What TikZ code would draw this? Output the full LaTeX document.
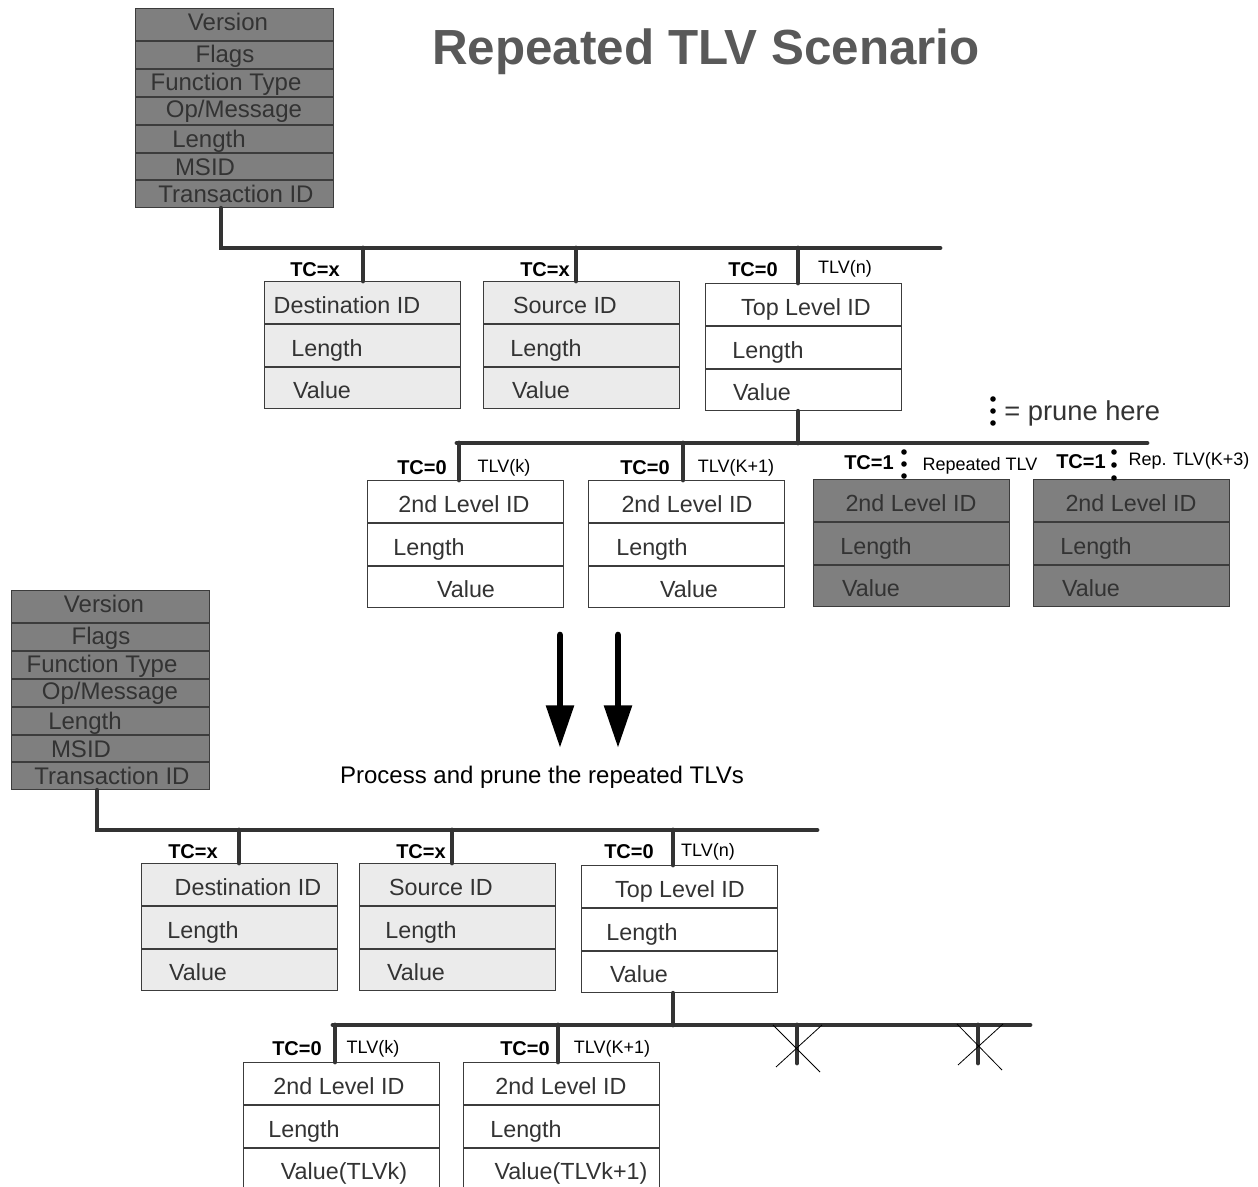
\documentclass[tikz,border=0pt]{standalone}
\usepackage{fontspec}
\setmainfont{Liberation Sans}
\usetikzlibrary{arrows.meta,calc}
\definecolor{ln}{HTML}{333333}
\definecolor{bx}{HTML}{3C3C3C}
\definecolor{dk}{HTML}{7F7F7F}
\definecolor{lt}{HTML}{EBEBEB}
\definecolor{tx}{HTML}{333333}
\definecolor{ttl}{HTML}{595959}
\tikzset{
  bus/.style={draw=ln, line width=3.6pt, line cap=round},
  boxline/.style={draw=bx, line width=0.9pt},
  tlvb/.style={draw=bx, line width=0.9pt, rectangle, inner sep=0pt, anchor=north west, minimum width=147pt, minimum height=95.25pt},
  hdrb/.style={draw=bx, fill=dk, line width=0.9pt, rectangle, inner sep=0pt, anchor=north west, minimum width=148.5pt, minimum height=149.25pt},
  big/.style={font=\fontsize{17.5}{21}\selectfont, text=tx, inner sep=0pt, anchor=mid},
  hdrt/.style={font=\fontsize{18}{21}\selectfont, text=tx, inner sep=0pt, anchor=mid},
  tc/.style={font=\bfseries\fontsize{15}{18}\selectfont, inner sep=0pt, anchor=mid},
  tlvl/.style={font=\fontsize{13.5}{16}\selectfont, inner sep=0pt, anchor=mid},
  pdot/.style={circle, fill=black, inner sep=0pt, minimum size=4.2pt},
  xline/.style={draw=black, line width=0.6pt},
  bigarrow/.style={draw=black, line width=5pt, line cap=round, -{Triangle[length=32pt,width=20pt]}},
}
\newcommand\tlvbox[9]{%
  \node[tlvb, fill=#4] (#1) at (#2,#3) {};
  \draw[boxline] ($(#1.north west)+(0,43)$) -- ($(#1.north east)+(0,43)$);
  \draw[boxline] ($(#1.north west)+(0,86)$) -- ($(#1.north east)+(0,86)$);
  \node[big] (#1-a) at ($(#1.north west)+(#6,29)$) {#5};
  \node[big] (#1-b) at ($(#1.north west)+(#7,72)$) {Length};
  \node[big] (#1-c) at ($(#1.north west)+(#9,114)$) {#8};
}
\newcommand\hdrbox[3]{%
  \node[hdrb] (#1) at (#2,#3) {};
  \foreach \dy in {33,61,89,117,145,172}
    \draw[boxline] ($(#1.north west)+(0,\dy)$) -- ($(#1.north east)+(0,\dy)$);
  \node[hdrt] (#1-1) at ($(#1.north west)+(93,19)$) {Version};
  \node[hdrt] (#1-2) at ($(#1.north west)+(90,51)$) {Flags};
  \node[hdrt] (#1-3) at ($(#1.north west)+(91,79)$) {Function Type};
  \node[hdrt] (#1-4) at ($(#1.north west)+(99,106)$) {Op/Message};
  \node[hdrt] (#1-5) at ($(#1.north west)+(74,136)$) {Length};
  \node[hdrt] (#1-6) at ($(#1.north west)+(70,164)$) {MSID};
  \node[hdrt] (#1-7) at ($(#1.north west)+(101,191)$) {Transaction ID};
}
\begin{document}
\begin{tikzpicture}[x=0.75pt,y=-0.75pt]
\useasboundingbox (0,0) rectangle (1258,1187);
\fill[white] (0,0) rectangle (1258,1187);
\clip (0,0) rectangle (1258,1187);

% title
\node[font=\bfseries\fontsize{37}{42}\selectfont, text=ttl, inner sep=0pt, anchor=mid] (title) at (706,61) {Repeated TLV Scenario};

% ---------- top part ----------
\hdrbox{h1}{135}{8}
\tlvbox{dst1}{264}{281}{lt}{Destination ID}{83}{63}{Value}{58}
\tlvbox{src1}{483}{281}{lt}{Source ID}{82}{63}{Value}{58}
\tlvbox{top1}{705}{283}{white}{Top Level ID}{101}{63}{Value}{57}
\tlvbox{sA1}{367}{480}{white}{2nd Level ID}{97}{62}{Value}{99}
\tlvbox{sB1}{588}{480}{white}{2nd Level ID}{99}{64}{Value}{101}
\tlvbox{sC1}{813}{479}{dk}{2nd Level ID}{98}{63}{Value}{58}
\tlvbox{sD1}{1033}{479}{dk}{2nd Level ID}{98}{63}{Value}{58}

\coordinate (jA) at (221,248);
\coordinate (eA) at (940,248);
\draw[bus] (jA |- h1.south) -- (jA) -- (eA);
\coordinate (dA1) at (363,248); \draw[bus] (dA1) -- (dA1 |- dst1.north);
\coordinate (dA2) at (576,248); \draw[bus] (dA2) -- (dA2 |- src1.north);
\coordinate (dA3) at (798,248); \draw[bus] (dA3) -- (dA3 |- top1.north);

\node[tc] (tcA1) at (315,273) {TC=x};
\node[tc] (tcA2) at (545,273) {TC=x};
\node[tc] (tcA3) at (753,273) {TC=0};
\node[tlvl] (tlvA3) at (845,270) {TLV(n)};

\coordinate (jB) at (798,443);
\coordinate (lB) at (457,443);
\coordinate (rB) at (1147,443);
\draw[bus] (jB |- top1.south) -- (jB);
\draw[bus] (lB) -- (rB);
\coordinate (dB1) at (459,443); \draw[bus] (dB1) -- (dB1 |- sA1.north);
\coordinate (dB2) at (683,443); \draw[bus] (dB2) -- (dB2 |- sB1.north);

\node[pdot] (pc1) at (904,452) {};
\node[pdot] (pc2) at (904,464) {};
\node[pdot] (pc3) at (904,476) {};
\node[pdot] (pd1) at (1114,452) {};
\node[pdot] (pd2) at (1114,465) {};
\node[pdot] (pd3) at (1114,478) {};
\node[pdot] (pl1) at (993,399) {};
\node[pdot] (pl2) at (993,411) {};
\node[pdot] (pl3) at (993,423) {};
\node[font=\fontsize{20.5}{24}\selectfont, text=tx, inner sep=0pt, anchor=mid west] (prune) at (1004,417) {= prune here};

\node[tc] (tcB1) at (422,471) {TC=0};
\node[tlvl] (tlvB1) at (504,469) {TLV(k)};
\node[tc] (tcB2) at (645,471) {TC=0};
\node[tlvl] (tlvB2) at (736,469) {TLV(K+1)};
\node[tc] (tcB3) at (869,466) {TC=1};
\node[tlvl] (tlvB3) at (980,467) {Repeated TLV};
\node[tc] (tcB4) at (1081,465) {TC=1};
\node[tlvl] (tlvB4) at (1189,462) {Rep. TLV(K+3)};

% arrows
\coordinate (a1s) at (560,635); \coordinate (a1e) at (560,748);
\coordinate (a2s) at (618,635); \coordinate (a2e) at (618,748);
\draw[bigarrow] (a1s) -- (a1e);
\draw[bigarrow] (a2s) -- (a2e);
\node[font=\fontsize{18}{21}\selectfont, text=black, inner sep=0pt, anchor=mid] (proc) at (542,780) {Process and prune the repeated TLVs};

% ---------- bottom part ----------
\hdrbox{h2}{11}{590}
\tlvbox{dst2}{141}{863}{lt}{Destination ID}{107}{62}{Value}{57}
\tlvbox{src2}{359}{863}{lt}{Source ID}{82}{62}{Value}{57}
\tlvbox{top2}{581}{865}{white}{Top Level ID}{99}{61}{Value}{58}
\tlvbox{sA2}{243}{1062}{white}{2nd Level ID}{96}{61}{Value(TLVk)}{101}
\tlvbox{sB2}{463}{1062}{white}{2nd Level ID}{98}{63}{Value(TLVk+1)}{108}

\coordinate (jC) at (97,830);
\coordinate (eC) at (817,830);
\draw[bus] (jC |- h2.south) -- (jC) -- (eC);
\coordinate (dC1) at (239,830); \draw[bus] (dC1) -- (dC1 |- dst2.north);
\coordinate (dC2) at (452,830); \draw[bus] (dC2) -- (dC2 |- src2.north);
\coordinate (dC3) at (673,830); \draw[bus] (dC3) -- (dC3 |- top2.north);

\node[tc] (tcC1) at (193,855) {TC=x};
\node[tc] (tcC2) at (421,855) {TC=x};
\node[tc] (tcC3) at (629,855) {TC=0};
\node[tlvl] (tlvC3) at (708,853) {TLV(n)};

\coordinate (jD) at (673,1025);
\coordinate (lD) at (333,1025);
\coordinate (rD) at (1030,1025);
\draw[bus] (jD |- top2.south) -- (jD);
\draw[bus] (lD) -- (rD);
\coordinate (dD1) at (335,1025); \draw[bus] (dD1) -- (dD1 |- sA2.north);
\coordinate (dD2) at (558,1025); \draw[bus] (dD2) -- (dD2 |- sB2.north);

\node[tc] (tcD1) at (297,1052) {TC=0};
\node[tlvl] (tlvD1) at (373,1050) {TLV(k)};
\node[tc] (tcD2) at (525,1052) {TC=0};
\node[tlvl] (tlvD2) at (612,1050) {TLV(K+1)};

% pruned stubs with crosses
\coordinate (x1s) at (797,1025); \coordinate (x1e) at (797,1063);
\coordinate (x2s) at (978,1025); \coordinate (x2e) at (978,1063);
\draw[bus] (x1s) -- (x1e);
\draw[bus] (x2s) -- (x2e);
\coordinate (x1a) at (773,1025); \coordinate (x1b) at (820,1072);
\coordinate (x1c) at (822,1025); \coordinate (x1d) at (776,1067);
\coordinate (x2a) at (957,1024); \coordinate (x2b) at (1002,1070);
\coordinate (x2c) at (1003,1024); \coordinate (x2d) at (958,1065);
\draw[xline] (x1a) -- (x1b);
\draw[xline] (x1c) -- (x1d);
\draw[xline] (x2a) -- (x2b);
\draw[xline] (x2c) -- (x2d);
\end{tikzpicture}
\end{document}
